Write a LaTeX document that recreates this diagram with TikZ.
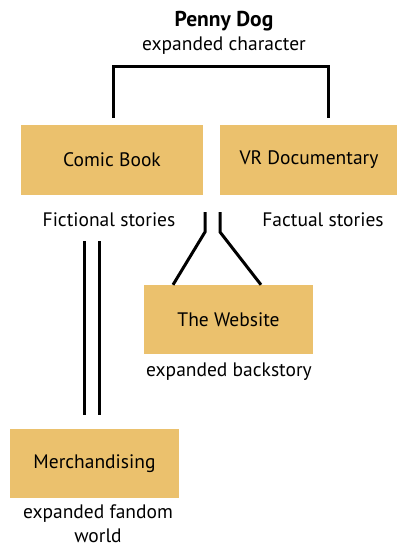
\documentclass[tikz,border=0pt]{standalone}
\usepackage{fontspec}
\setmainfont{PT Sans}
\begin{document}
\begin{tikzpicture}[x=1pt,y=-1pt,
  box/.style={fill=boxfill,draw=none,minimum width=182pt,minimum height=70pt,inner sep=0pt,font=\fontsize{19.5}{22}\selectfont},
  note/.style={inner sep=0pt,font=\fontsize{19.5}{22}\selectfont,align=center},
  link/.style={line width=3pt,black}]
\definecolor{boxfill}{HTML}{EBC16D}
\useasboundingbox (0,0) rectangle (396,548);

% title
\node[note,font=\fontsize{21.5}{24}\bfseries\selectfont] (title) at (224,21) {Penny Dog};
\node[note] (sub) at (224,46) {expanded character};

% boxes
\node[box,minimum width=182pt] (comic) at (112,160) {Comic Book};
\node[box,minimum width=178pt] (vr) at (309,160) {VR Documentary};
\node[box,minimum width=169pt,minimum height=69pt] (web) at (228.5,319.5) {The Website};
\node[box,minimum width=169pt,minimum height=69pt] (merch) at (94.5,463.5) {Merchandising};

% captions
\node[note] (fict) at (109,220) {Fictional stories};
\node[note] (fact) at (323,220) {Factual stories};
\node[note] (back) at (229,372) {expanded backstory};
\node[note,font=\fontsize{19.5}{24}\selectfont] (fan) at (98,524) {expanded fandom\\world};

% bracket joining the two productions
\coordinate (bl) at (113,118);
\coordinate (br) at (328,118);
\draw[link] (bl) -- (113,67) -- (328,67) -- (br);

% branch into the website
\draw[link] (205,212) -- (205,232) -- (web.north -| 173,273);
\draw[link] (220,212) -- (220,232) -- (web.north -| 261,273);

% double line down to merchandising
\draw[link] (84,241) -- (84,415);
\draw[link] (99,241) -- (99,415);
\end{tikzpicture}
\end{document}
